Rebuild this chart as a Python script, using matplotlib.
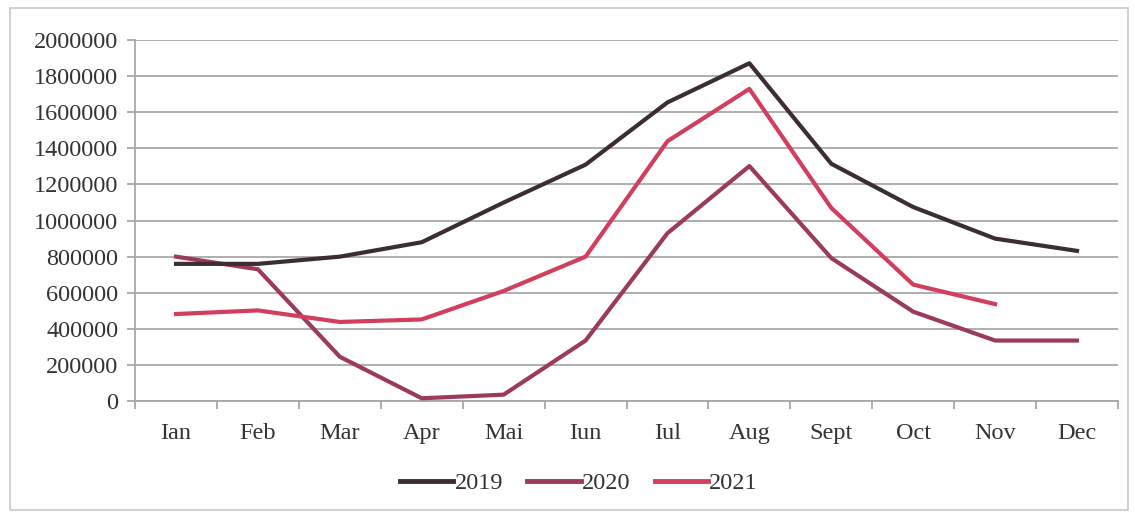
import matplotlib
matplotlib.use("Agg")
import matplotlib.pyplot as plt
from matplotlib.patches import Rectangle

months = ["Ian", "Feb", "Mar", "Apr", "Mai", "Iun", "Iul", "Aug", "Sept", "Oct", "Nov", "Dec"]
s2019 = [760000, 760000, 800000, 880000, 1100000, 1310000, 1655000, 1872000, 1315000, 1075000, 900000, 832000]
s2020 = [800000, 730000, 245000, 15000, 35000, 335000, 930000, 1302000, 792000, 495000, 335000, 335000]
s2021 = [482000, 502000, 438000, 452000, 610000, 800000, 1440000, 1730000, 1070000, 645000, 537000]
yticks = [0, 200000, 400000, 600000, 800000, 1000000, 1200000, 1400000, 1600000, 1800000, 2000000]

plt.rcParams['font.family'] = ['Liberation Serif', 'DejaVu Serif']

fig = plt.figure(figsize=(11.35, 5.15), dpi=100)
ax = fig.add_axes([0.119, 0.2214, 0.866, 0.7006])

c2019 = "#3b2d33"
c2020 = "#9c3a5c"
c2021 = "#d23e5e"
x = list(range(len(months)))
ax.plot(x, s2019, color=c2019, lw=3.0, label="2019", solid_joinstyle="round", zorder=4)
ax.plot(x, s2020, color=c2020, lw=3.0, label="2020", solid_joinstyle="round", zorder=3)
ax.plot(x[:len(s2021)], s2021, color=c2021, lw=3.0, label="2021", solid_joinstyle="round", zorder=3)

ax.set_xlim(-0.5, 11.5)
ax.set_ylim(0, 2000000)
ax.set_yticks(yticks)
ax.set_yticklabels([str(v) for v in yticks], fontsize=17.5, color="#333333")
ax.yaxis.grid(True, color="#a8a8a8", lw=1.3)
ax.set_axisbelow(True)

ax.set_xticks(x)
ax.set_xticklabels(months, fontsize=17.5, color="#333333")
ax.set_xticks([i - 0.5 for i in range(13)], minor=True)
ax.tick_params(axis='x', which='major', length=0, pad=16)
ax.tick_params(axis='x', which='minor', length=6, color="#a8a8a8", width=1.3)
ax.tick_params(axis='y', length=6, color="#a8a8a8", width=1.3, pad=6)

for sp in ["top", "right"]:
    ax.spines[sp].set_visible(False)
ax.spines["left"].set_color("#a8a8a8")
ax.spines["left"].set_linewidth(1.3)
ax.spines["bottom"].set_color("#a8a8a8")
ax.spines["bottom"].set_linewidth(1.3)

leg = fig.legend(loc="center", bbox_to_anchor=(0.51, 0.062), ncol=3, frameon=False,
                 fontsize=17.5, handlelength=2.2, handletextpad=0.05, columnspacing=1.0,
                 labelcolor="#333333")
for h in leg.legend_handles:
    h.set_linewidth(3.5)

fig.patches.append(Rectangle((0.009, 0.01), 0.985, 0.975, transform=fig.transFigure,
                             fill=False, edgecolor="#c8c8c8", lw=1.2))

fig.savefig("out.png", dpi=100, facecolor="white")
